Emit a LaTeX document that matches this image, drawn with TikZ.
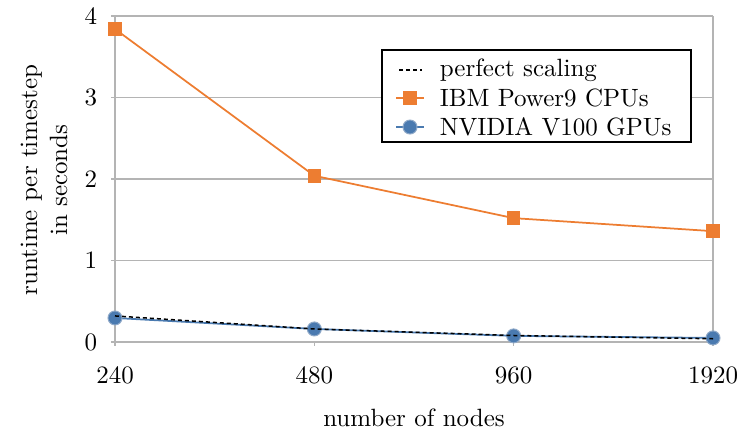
\documentclass[tikz,border=0pt]{standalone}
\usetikzlibrary{calc}
\definecolor{cpuorange}{HTML}{ED7D31}
\definecolor{gpublue}{HTML}{4A7AB0}
\definecolor{gpuedge}{HTML}{8FA9C8}
\definecolor{gridgrey}{HTML}{B4B4B4}
\tikzset{
  gridline/.style={draw=gridgrey, line width=0.5pt},
  cpuline/.style={draw=cpuorange, line width=0.7pt},
  gpuline/.style={draw=gpublue, line width=0.7pt},
  perfline/.style={draw=black, line width=0.6pt, dash pattern=on 1.6pt off 1.2pt},
  cpumark/.style={rectangle, fill=cpuorange, minimum size=5.4pt, inner sep=0pt},
  gpumark/.style={circle, fill=gpublue, draw=gpuedge, line width=0.4pt, minimum size=5.6pt, inner sep=0pt},
  ticklab/.style={font=\normalsize},
}
\begin{document}
\begin{tikzpicture}[x=0.4pt, y=-0.4pt]
\useasboundingbox (0,0) rectangle (740,429);
% horizontal grid lines and frame
\foreach \v in {1,2,3,4} {
  \draw[gridline] (115,{342-81.5*\v}) -- (713,{342-81.5*\v});
  \draw[gridline] (111,{342-81.5*\v}) -- (115,{342-81.5*\v});
}
\draw[gridline] (111,342) -- (713,342);
\draw[gridline] (115,{342-81.5*4}) -- (115,342);
\draw[gridline] (713,{342-81.5*4}) -- (713,342);
\foreach \x in {115,314.33,513.67,713} \draw[gridline] (\x,342) -- (\x,346);
% tick labels
\foreach \v in {0,1,2,3,4}
  \node[ticklab, anchor=east] (yl\v) at (106,{342-81.5*\v}) {\v};
\node[ticklab, anchor=north] (xl1) at (115,358) {240};
\node[ticklab, anchor=north] (xl2) at (314.33,358) {480};
\node[ticklab, anchor=north] (xl3) at (513.67,358) {960};
\node[ticklab, anchor=north] (xl4) at (713,358) {1920};
% axis titles
\node (xtitle) at (414,418) {number of nodes};
\node[rotate=90, align=center] (ytitle) at (44,180) {runtime per timestep\\in seconds};
% data coordinates
\coordinate (c1) at (115,{342-81.5*3.84});
\coordinate (c2) at (314.33,{342-81.5*2.04});
\coordinate (c3) at (513.67,{342-81.5*1.52});
\coordinate (c4) at (713,{342-81.5*1.36});
\coordinate (g1) at (115,{342-81.5*0.295});
\coordinate (g2) at (314.33,{342-81.5*0.16});
\coordinate (g3) at (513.67,{342-81.5*0.075});
\coordinate (g4) at (713,{342-81.5*0.05});
\coordinate (p1) at (115,{342-81.5*0.32});
\coordinate (p2) at (314.33,{342-81.5*0.16});
\coordinate (p3) at (513.67,{342-81.5*0.08});
\coordinate (p4) at (713,{342-81.5*0.04});
% series
\draw[cpuline] (c1) -- (c2) -- (c3) -- (c4);
\draw[gpuline] (g1) -- (g2) -- (g3) -- (g4);
\foreach \i in {1,2,3,4} \node[cpumark] (cm\i) at (c\i) {};
\foreach \i in {1,2,3,4} \node[gpumark] (gm\i) at (g\i) {};
\draw[perfline] (p1) -- (p2) -- (p3) -- (p4);
% legend
\draw[fill=white, line width=0.5pt] (382,50) rectangle (691,142);
\coordinate (la1) at (399,70); \coordinate (lb1) at (422,70);
\coordinate (la2) at (396,98); \coordinate (lb2) at (424,98);
\coordinate (la3) at (396,127); \coordinate (lb3) at (424,127);
\draw[perfline] (la1) -- (lb1);
\draw[cpuline] (la2) -- (lb2);
\node[cpumark] (lm2) at ($(la2)!0.5!(lb2)$) {};
\draw[gpuline] (la3) -- (lb3);
\node[gpumark] (lm3) at ($(la3)!0.5!(lb3)$) {};
\node[anchor=west] (lt1) at (431,70) {perfect scaling};
\node[anchor=west] (lt2) at (431,98) {IBM Power9 CPUs};
\node[anchor=west] (lt3) at (431,127) {NVIDIA V100 GPUs};
\end{tikzpicture}
\end{document}
